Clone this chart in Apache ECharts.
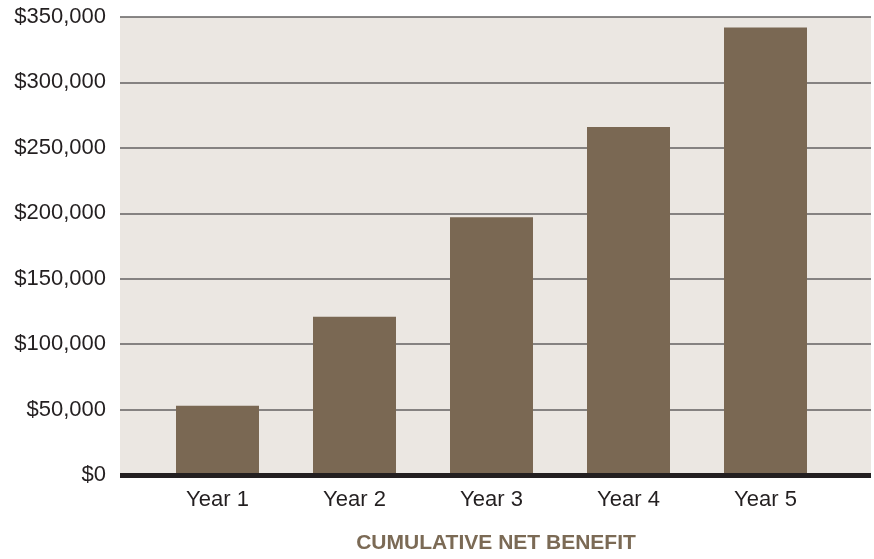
<!DOCTYPE html>
<html>
<head>
<meta charset="utf-8">
<script src="https://cdn.jsdelivr.net/npm/echarts@6/dist/echarts.min.js"></script>
<style>html,body{margin:0;padding:0;background:#fff}#c{width:874px;height:559px}</style>
</head>
<body>
<div id="c"></div>
<script>
const categories = ['Year 1', 'Year 2', 'Year 3', 'Year 4', 'Year 5'];
const netBenefit = [53000, 121000, 197000, 266000, 342000];
const yTicks = [0, 50000, 100000, 150000, 200000, 250000, 300000, 350000];
const chartTitle = 'CUMULATIVE NET BENEFIT';

const font = 'Liberation Sans, Arial, sans-serif';
const yMin = yTicks[0], yMax = yTicks[yTicks.length - 1], yStep = yTicks[1] - yTicks[0];

const chart = echarts.init(document.getElementById('c'), null, {renderer: 'canvas'});
chart.setOption({
  animation: false,
  grid: [
    {left: 120, right: 3, top: 17, bottom: 84, show: true, backgroundColor: '#ebe7e2', borderWidth: 0},
    {left: 149, right: 40, top: 17, bottom: 84}
  ],
  xAxis: [
    {gridIndex: 0, type: 'category', data: categories, axisLabel: {show: false}, axisTick: {show: false},
     axisLine: {show: true, lineStyle: {color: '#231f20', width: 5, cap: 'butt'}}, z: 10},
    {gridIndex: 1, type: 'category', data: categories, axisLine: {show: false}, axisTick: {show: false},
     axisLabel: {color: '#231f20', fontSize: 22, fontFamily: font, margin: 14}}
  ],
  yAxis: [
    {gridIndex: 0, type: 'value', min: yMin, max: yMax, interval: yStep,
     axisLine: {show: false}, axisTick: {show: false},
     axisLabel: {color: '#231f20', fontSize: 22, fontFamily: font, margin: 14,
       formatter: v => '$' + v.toLocaleString('en-US')},
     splitLine: {show: true, lineStyle: {color: '#636160', width: 1.5}}},
    {gridIndex: 1, type: 'value', min: yMin, max: yMax, interval: yStep, show: false, splitLine: {show: false}}
  ],
  series: [{
    type: 'bar', xAxisIndex: 1, yAxisIndex: 1, data: netBenefit, barWidth: 83,
    itemStyle: {color: '#7a6853'}, z: 5
  }],
  graphic: [{
    type: 'text', x: 496, y: 543,
    style: {text: chartTitle, fill: '#7b6a55', fontSize: 21, fontWeight: 'bold', fontFamily: font,
            align: 'center', verticalAlign: 'middle'}
  }]
});
</script>
</body>
</html>
